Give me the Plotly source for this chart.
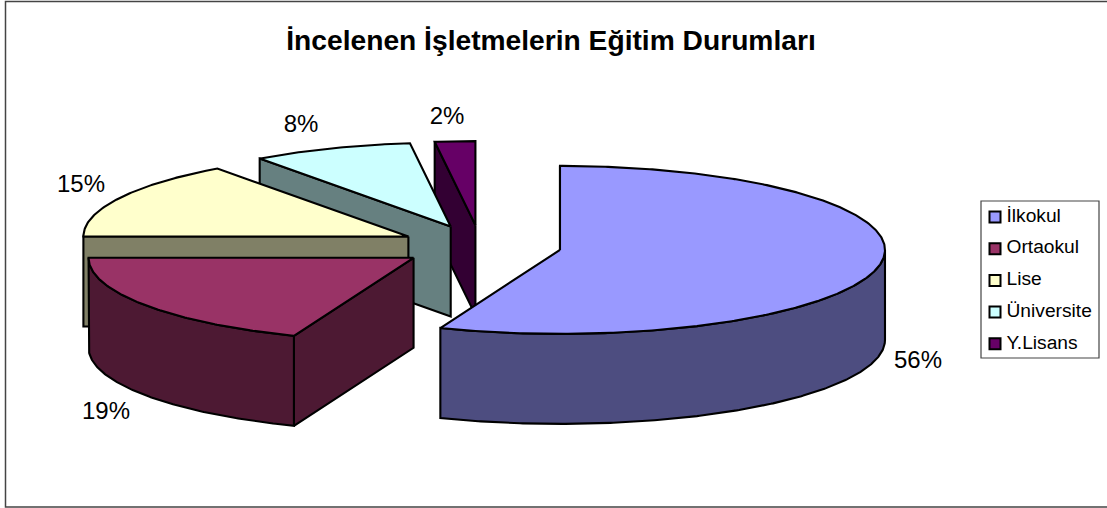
import numpy as np
import plotly.graph_objects as go

categories = ["İlkokul", "Ortaokul", "Lise", "Üniversite", "Y.Lisans"]
values = [56, 19, 15, 8, 2]
top_colors = ["#9999FF", "#993366", "#FFFFCC", "#CCFFFF", "#660066"]
wall_colors = ["#4D4D80", "#4D1933", "#808066", "#668080", "#330033"]
title = "İncelenen İşletmelerin Eğitim Durumları"

W, H = 1107, 508
CX, CY, RX, RY, DEPTH, EXPLODE = 480.5, 246, 325, 84, 90, 0.249
LINE = 2.1
FONT = "Liberation Sans, Arial, sans-serif"
label_xy = [(918, 362), (106, 413), (81, 186), (301, 126), (447, 118)]
LEG_X, LEG_TX, LEG_Y0, LEG_DY = 995, 1006.5, 217, 31.7


def pt(c, deg):
    t = np.radians(deg)
    return c[0] + RX * np.sin(t), c[1] - RY * np.cos(t)


def arc(c, a, b):
    ts = np.linspace(a, b, max(2, int(abs(b - a) * 2) + 1))
    return zip(*[pt(c, t) for t in ts])


fig = go.Figure()


def poly(xs, ys, fill):
    xs, ys = list(xs), list(ys)
    fig.add_trace(go.Scatter(
        x=xs + xs[:1], y=ys + ys[:1], mode="lines", fill="toself", fillcolor=fill,
        line=dict(color="black", width=LINE), showlegend=False, hoverinfo="skip"))


total = sum(values)
angles = np.concatenate([[0], np.cumsum(values) / total * 360])
for i in reversed(range(len(values))):
    a, b = angles[i], angles[i + 1]
    mid = (a + b) / 2
    t = np.radians(mid)
    c = (CX + EXPLODE * RX * np.sin(t), CY - EXPLODE * RY * np.cos(t))
    sx, sy = pt(c, a)
    # side wall along the leading edge
    poly([c[0], sx, sx, c[0]], [c[1], sy, sy + DEPTH, c[1] + DEPTH], wall_colors[i])
    # outer curved wall, only the front half of the ellipse shows
    lo, hi = max(a, 90), min(b, 270)
    if hi > lo:
        ax, ay = arc(c, lo, hi)
        ax, ay = list(ax), list(ay)
        poly(ax + ax[::-1], ay + [y + DEPTH for y in ay[::-1]], wall_colors[i])
    # top face
    ax, ay = arc(c, a, b)
    poly([c[0]] + list(ax), [c[1]] + list(ay), top_colors[i])

# percentage labels
fig.add_trace(go.Scatter(
    x=[p[0] for p in label_xy], y=[p[1] for p in label_xy], mode="text",
    text=[f"{v}%" for v in values], textposition="middle center",
    textfont=dict(family=FONT, size=24, color="black"),
    showlegend=False, hoverinfo="skip"))

# legend column
leg_y = [LEG_Y0 + k * LEG_DY for k in range(len(categories))]
fig.add_trace(go.Scatter(
    x=[LEG_X] * len(categories), y=leg_y, mode="markers",
    marker=dict(symbol="square", size=11, color=top_colors, line=dict(color="black", width=2)),
    showlegend=False, hoverinfo="skip"))
fig.add_trace(go.Scatter(
    x=[LEG_TX] * len(categories), y=leg_y, mode="text",
    text=categories, textposition="middle right",
    textfont=dict(family=FONT, size=19.2, color="black"),
    showlegend=False, hoverinfo="skip"))

fig.update_layout(
    width=W, height=H, margin=dict(l=0, r=0, t=0, b=0),
    paper_bgcolor="white", plot_bgcolor="white", showlegend=False,
    title=dict(text=f"<b>{title}</b>", x=551 / W, y=1 - 40 / H, xanchor="center", yanchor="middle",
               font=dict(family=FONT, size=28.2, color="black")),
    xaxis=dict(range=[0, W], visible=False, fixedrange=True),
    yaxis=dict(range=[H, 0], visible=False, fixedrange=True),
    shapes=[
        dict(type="rect", xref="x", yref="y", x0=5.5, y0=1.5, x1=W + 5, y1=507,
             line=dict(color="#444444", width=1.5), fillcolor="rgba(0,0,0,0)"),
        dict(type="rect", xref="x", yref="y", x0=981, y0=201, x1=1099, y1=358,
             line=dict(color="#444444", width=1.2), fillcolor="rgba(0,0,0,0)"),
    ],
)
fig.write_html("out.html", config={"displayModeBar": False},
               post_script="document.body.style.margin='0';")
